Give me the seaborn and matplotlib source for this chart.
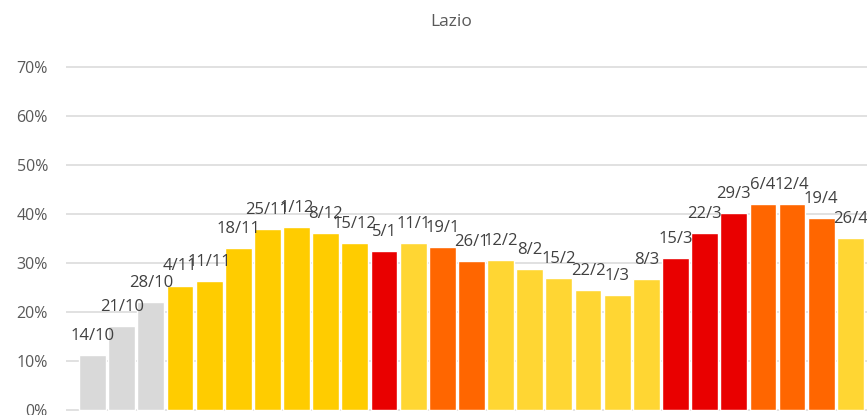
import matplotlib
matplotlib.use("Agg")
import matplotlib.pyplot as plt
import seaborn as sns
from matplotlib.ticker import PercentFormatter

# weekly occupancy share, Lazio
dates = ["14/10", "21/10", "28/10", "4/11", "11/11", "18/11", "25/11", "1/12",
         "8/12", "15/12", "5/1", "11/1", "19/1", "26/1", "12/2", "8/2", "15/2",
         "22/2", "1/3", "8/3", "15/3", "22/3", "29/3", "6/4", "12/4", "19/4", "26/4"]
values = [0.112, 0.171, 0.220, 0.254, 0.263, 0.331, 0.369, 0.373,
          0.361, 0.341, 0.324, 0.341, 0.333, 0.304, 0.306, 0.288, 0.269,
          0.245, 0.235, 0.267, 0.310, 0.361, 0.402, 0.420, 0.420, 0.392, 0.351]
zones = ["none", "none", "none", "yellow", "yellow", "yellow", "yellow", "yellow",
         "yellow", "yellow", "red", "light", "orange", "orange", "light", "light", "light",
         "light", "light", "light", "red", "red", "red", "orange", "orange", "orange", "light"]

zone_colors = {"none": "#D9D9D9", "yellow": "#FFCC00", "light": "#FFD633",
               "red": "#E90000", "orange": "#FF6600"}
colors = [zone_colors[z] for z in zones]

sns.set_style("white")
plt.rcParams["font.family"] = ["Open Sans", "DejaVu Sans"]

fig = plt.figure(figsize=(8.67, 4.15), dpi=100)
ax = fig.add_axes([66 / 867, 0, 1 - 66 / 867, 355 / 415])

sns.barplot(x=dates, y=values, hue=dates, palette=colors, legend=False,
            width=0.92, saturation=1, ax=ax)

for i, (d, v) in enumerate(zip(dates, values)):
    ax.annotate(d, (i, v), xytext=(0, 11), textcoords="offset points",
                ha="center", va="baseline", fontsize=12, color="#404040")

ax.set_xlim(-0.91, 26.57)
ax.set_ylim(-0.0102, 0.7143)
ax.set_yticks([i / 10 for i in range(8)])
ax.yaxis.set_major_formatter(PercentFormatter(1.0, decimals=0))
ax.set_xticks([])
ax.set_xlabel("")
ax.set_ylabel("")
ax.tick_params(axis="y", length=0, pad=13, labelsize=11.5, labelcolor="#595959")
ax.grid(axis="y", color="#D9D9D9", linewidth=1.1)
ax.set_axisbelow(True)
sns.despine(ax=ax, left=True, bottom=True)

fig.text(451 / 867, 1 - 22 / 415, "Lazio", ha="center", va="center",
         fontsize=12.5, color="#595959")

fig.savefig("out.png", dpi=100)
